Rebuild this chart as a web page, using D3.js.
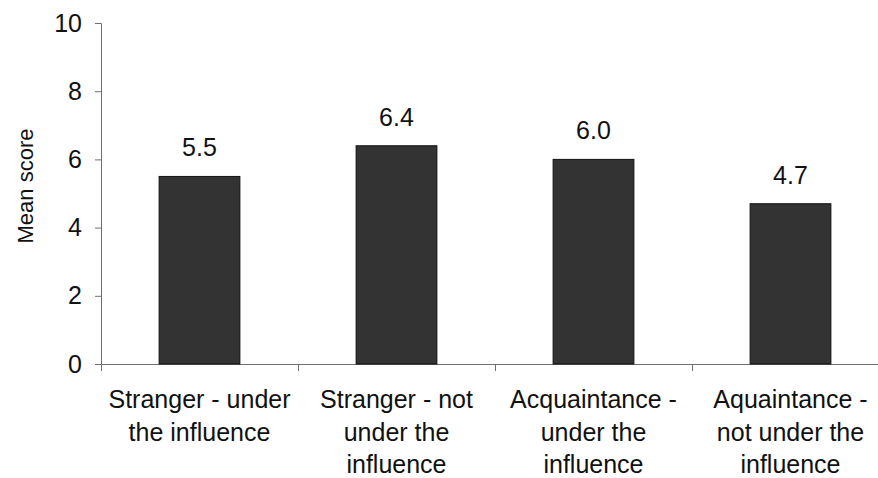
<!DOCTYPE html>
<html>
<head>
<meta charset="utf-8">
<script src="https://cdn.jsdelivr.net/npm/d3@7"></script>
<style>
  body { margin: 0; background: #fff; }
  svg { display: block; font-family: "Liberation Sans", Arial, sans-serif; }
</style>
</head>
<body>
<div id="chart"></div>
<script>
// ── Data ───────────────────────────────────────────────────
const categories = [
  ["Stranger - under", "the influence"],
  ["Stranger - not", "under the", "influence"],
  ["Acquaintance -", "under the", "influence"],
  ["Aquaintance -", "not under the", "influence"]
];
const meanScores = [5.5, 6.4, 6.0, 4.7];
const yTicks = [0, 2, 4, 6, 8, 10];

const W = 878, H = 478;
const margin = { top: 23, right: -11, bottom: 114, left: 101 };
const iW = W - margin.left - margin.right;
const iH = H - margin.top - margin.bottom;

const svg = d3.select("#chart").append("svg")
  .attr("width", W).attr("height", H);

const g = svg.append("g")
  .attr("transform", `translate(${margin.left},${margin.top})`);

const keys = categories.map((c, i) => i);

// ── Scales ─────────────────────────────────────────────────
const xScale = d3.scaleBand()
  .domain(keys)
  .range([0, iW])
  .paddingInner(0.59)
  .paddingOuter(0.295);

const yScale = d3.scaleLinear()
  .domain([0, 10])
  .range([iH, 0]);

const AXIS_COLOR = "#6f6f6f";

// ── Y axis ─────────────────────────────────────────────────
g.append("g")
  .call(d3.axisLeft(yScale).tickValues(yTicks).tickSize(6).tickPadding(13))
  .call(ax => ax.select(".domain").attr("stroke", AXIS_COLOR))
  .call(ax => ax.selectAll(".tick line").attr("stroke", AXIS_COLOR))
  .call(ax => ax.selectAll(".tick text")
    .attr("font-size", 25)
    .attr("font-family", "Liberation Sans, Arial, sans-serif")
    .attr("fill", "#111"));

// Y axis label
g.append("text")
  .attr("transform", "rotate(-90)")
  .attr("x", -(186 - margin.top))
  .attr("y", 33 - margin.left)
  .attr("text-anchor", "middle")
  .attr("font-size", 22)
  .attr("fill", "#111")
  .text("Mean score");

// ── X axis (line + category boundary ticks) ────────────────
g.append("line")
  .attr("x1", 0).attr("x2", iW)
  .attr("y1", iH + 0.5).attr("y2", iH + 0.5)
  .attr("stroke", AXIS_COLOR);

const step = xScale.step();
d3.range(categories.length + 1).forEach(i => {
  g.append("line")
    .attr("x1", i * step + 0.5).attr("x2", i * step + 0.5)
    .attr("y1", iH).attr("y2", iH + 7)
    .attr("stroke", AXIS_COLOR);
});

// Category labels (multi-line)
keys.forEach(i => {
  const cx = xScale(i) + xScale.bandwidth() / 2;
  const t = g.append("text")
    .attr("text-anchor", "middle")
    .attr("font-size", 25)
    .attr("fill", "#111");
  categories[i].forEach((line, j) => {
    t.append("tspan")
      .attr("x", cx)
      .attr("y", iH + 44 + j * 32.5)
      .text(line);
  });
});

// ── Bars ───────────────────────────────────────────────────
keys.forEach(i => {
  const v = meanScores[i];
  g.append("rect")
    .attr("x", xScale(i))
    .attr("y", yScale(v))
    .attr("width", xScale.bandwidth())
    .attr("height", iH - yScale(v))
    .attr("fill", "#333")
    .attr("stroke", "#111")
    .attr("stroke-width", 1);

  // Value label above bar
  g.append("text")
    .attr("x", xScale(i) + xScale.bandwidth() / 2)
    .attr("y", yScale(v) - 20)
    .attr("text-anchor", "middle")
    .attr("font-size", 25)
    .attr("fill", "#111")
    .text(v.toFixed(1));
});
</script>
</body>
</html>
